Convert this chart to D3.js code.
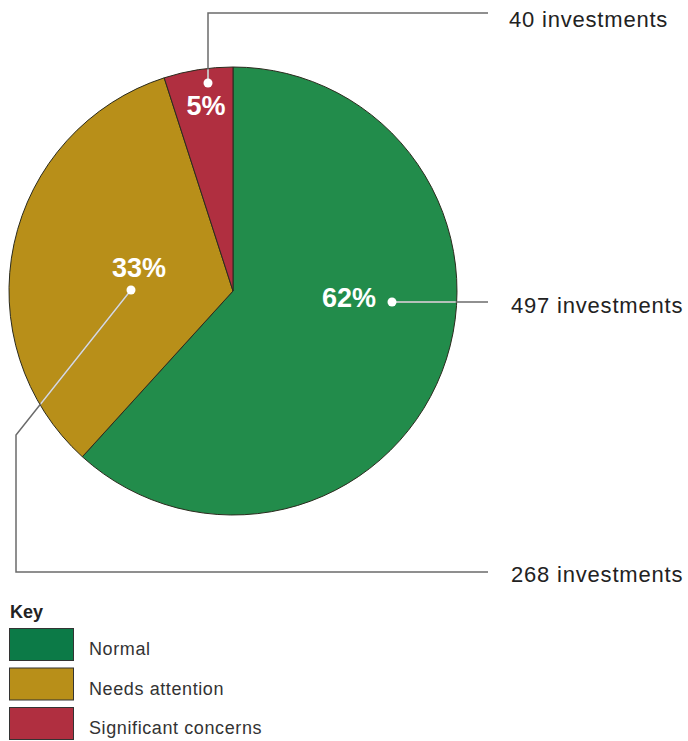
<!DOCTYPE html>
<html>
<head>
<meta charset="utf-8">
<script src="https://cdn.jsdelivr.net/npm/d3@7"></script>
<style>
  body { margin: 0; background: #fff; }
  svg { display: block; font-family: "Liberation Sans", Arial, Helvetica, sans-serif; }
</style>
</head>
<body>
<div id="chart"></div>
<script>
const categories = ["Normal", "Needs attention", "Significant concerns"];
const counts = [497, 268, 40];
const countLabels = ["497 investments", "268 investments", "40 investments"];

const width = 688, height = 741;
const cx = 233, cy = 291, radius = 224;

const pieColor = d3.scaleOrdinal()
  .domain(categories)
  .range(["#228c4b", "#b88f19", "#b02f40"]);

const keyColor = d3.scaleOrdinal()
  .domain(categories)
  .range(["#0c7a47", "#b88f19", "#b02f40"]);

// leader lines: dot inside the slice, then elbows out to the count label
const leaders = {
  "Normal": { dot: [392, 302], path: [[392, 302], [488, 302]], text: [511, 313], pct: [349, 307] },
  "Needs attention": { dot: [131, 290], path: [[131, 290], [16, 435], [16, 572], [488, 572]], text: [511, 582], pct: [139, 277] },
  "Significant concerns": { dot: [208, 83], path: [[208, 83], [208, 13], [488, 13]], text: [509, 27], pct: [206, 115] }
};

const total = d3.sum(counts);
const data = categories.map((c, i) => ({ category: c, count: counts[i], label: countLabels[i] }));

const svg = d3.select("#chart")
  .append("svg")
  .attr("width", width)
  .attr("height", height);

const pie = d3.pie()
  .value(d => d.count)
  .sort(null);

const arc = d3.arc()
  .innerRadius(0)
  .outerRadius(radius);

const g = svg.append("g")
  .attr("transform", `translate(${cx},${cy})`);

g.selectAll("path")
  .data(pie(data))
  .join("path")
  .attr("d", arc)
  .attr("fill", d => pieColor(d.data.category))
  .attr("stroke", "#2b2b1e")
  .attr("stroke-width", 1);

svg.append("clipPath")
  .attr("id", "pie-clip")
  .append("circle")
  .attr("cx", cx)
  .attr("cy", cy)
  .attr("r", radius - 1);

const line = d3.line();

// gray part of the leaders (outside the pie)
svg.selectAll(".leader")
  .data(data)
  .join("path")
  .attr("class", "leader")
  .attr("fill", "none")
  .attr("stroke", "#6b6b6b")
  .attr("stroke-width", 1.5)
  .attr("d", d => line(leaders[d.category].path));

// light part inside the pie
svg.selectAll(".leader-in")
  .data(data)
  .join("path")
  .attr("class", "leader-in")
  .attr("fill", "none")
  .attr("stroke", "#fff")
  .attr("stroke-opacity", 0.75)
  .attr("stroke-width", 1.5)
  .attr("clip-path", "url(#pie-clip)")
  .attr("d", d => line(leaders[d.category].path));

svg.selectAll(".dot")
  .data(data)
  .join("circle")
  .attr("cx", d => leaders[d.category].dot[0])
  .attr("cy", d => leaders[d.category].dot[1])
  .attr("r", 4.5)
  .attr("fill", "#fff");

svg.selectAll(".pct")
  .data(data)
  .join("text")
  .attr("x", d => leaders[d.category].pct[0])
  .attr("y", d => leaders[d.category].pct[1])
  .attr("text-anchor", "middle")
  .attr("fill", "#fff")
  .attr("font-weight", "bold")
  .attr("font-size", 27)
  .text(d => Math.round(d.count / total * 100) + "%");

svg.selectAll(".count")
  .data(data)
  .join("text")
  .attr("x", d => leaders[d.category].text[0])
  .attr("y", d => leaders[d.category].text[1])
  .attr("fill", "#222")
  .attr("font-size", 22)
  .attr("letter-spacing", 0.8)
  .text(d => d.label);

// key
svg.append("text")
  .attr("x", 10)
  .attr("y", 618)
  .attr("font-weight", "bold")
  .attr("font-size", 18)
  .attr("fill", "#222")
  .text("Key");

const key = svg.selectAll(".key")
  .data(categories)
  .join("g")
  .attr("transform", (d, i) => `translate(9,${628 + i * 39.5})`);

key.append("rect")
  .attr("x", 0.5)
  .attr("y", 0.5)
  .attr("width", 64)
  .attr("height", 32)
  .attr("fill", d => keyColor(d))
  .attr("stroke", "#333")
  .attr("stroke-width", 1);

key.append("text")
  .attr("x", 80)
  .attr("y", 27)
  .attr("font-size", 18)
  .attr("letter-spacing", 0.6)
  .attr("fill", "#333")
  .text(d => d);
</script>
</body>
</html>
